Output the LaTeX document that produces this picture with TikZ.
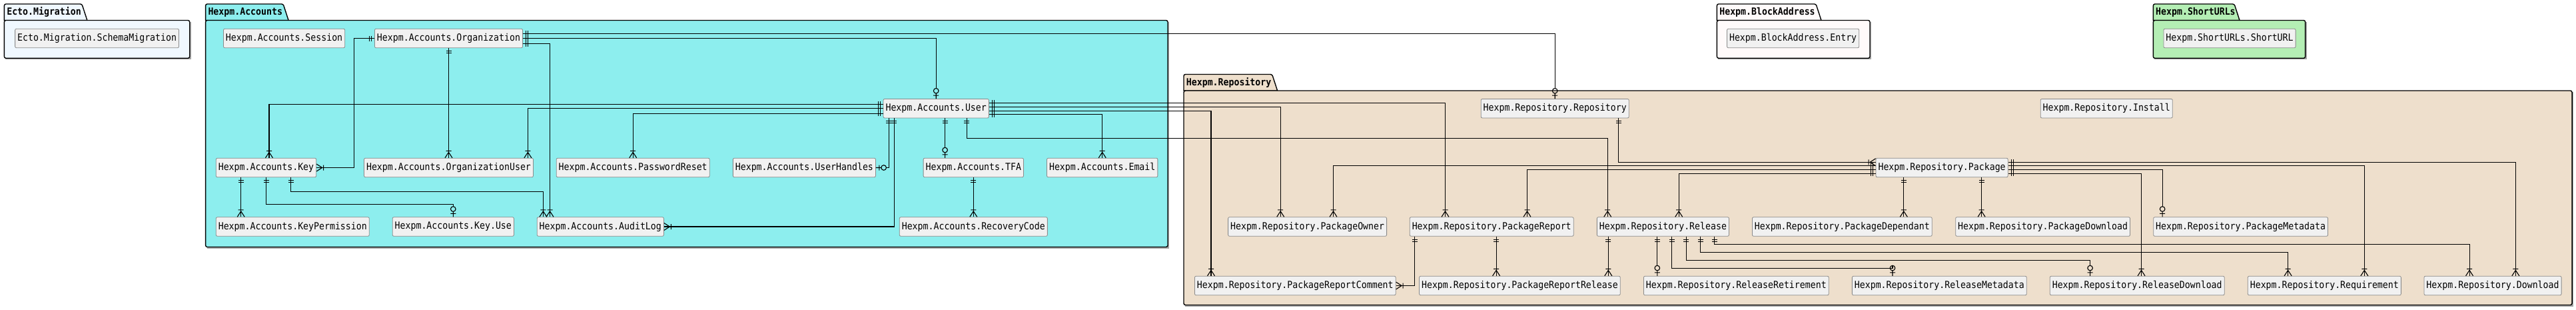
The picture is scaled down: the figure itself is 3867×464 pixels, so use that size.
\documentclass[tikz,border=0pt]{standalone}
\usepackage{fontspec}
\usepackage{tikz}
\usetikzlibrary{arrows.meta}
\newfontfamily\entfont{DejaVu Sans Mono}[FakeStretch=0.9]
\definecolor{migfill}{HTML}{F0F8FF}
\definecolor{accfill}{HTML}{8DEEEE}
\definecolor{repofill}{HTML}{EEDFCC}
\definecolor{blockfill}{HTML}{FFFAFA}
\definecolor{urlfill}{HTML}{B4EEB4}
\definecolor{entfill}{HTML}{F1F1F1}
\definecolor{entline}{HTML}{8A8A8A}

\pgfdeclarearrow{
  name = erOne,
  parameters = {\the\pgflinewidth},
  setup code = {
    \pgfarrowssettipend{0pt}
    \pgfarrowssetlineend{0pt}
    \pgfarrowssetbackend{-9pt}
  },
  drawing code = {
    \pgfpathmoveto{\pgfpoint{-4.5pt}{-4pt}}
    \pgfpathlineto{\pgfpoint{-4.5pt}{4pt}}
    \pgfpathmoveto{\pgfpoint{-7.5pt}{-4pt}}
    \pgfpathlineto{\pgfpoint{-7.5pt}{4pt}}
    \pgfusepathqstroke
  }
}
\pgfdeclarearrow{
  name = erMany,
  parameters = {\the\pgflinewidth},
  setup code = {
    \pgfarrowssettipend{0pt}
    \pgfarrowssetlineend{0pt}
    \pgfarrowssetbackend{-11pt}
  },
  drawing code = {
    \pgfpathmoveto{\pgfpoint{-8.5pt}{0pt}}
    \pgfpathlineto{\pgfpoint{0pt}{5.5pt}}
    \pgfpathmoveto{\pgfpoint{-8.5pt}{0pt}}
    \pgfpathlineto{\pgfpoint{0pt}{-5.5pt}}
    \pgfpathmoveto{\pgfpoint{-10.5pt}{-4pt}}
    \pgfpathlineto{\pgfpoint{-10.5pt}{4pt}}
    \pgfusepathqstroke
  }
}
\pgfdeclarearrow{
  name = erOpt,
  parameters = {\the\pgflinewidth},
  setup code = {
    \pgfarrowssettipend{0pt}
    \pgfarrowssetlineend{-15.6pt}
    \pgfarrowssetbackend{-15.6pt}
  },
  drawing code = {
    \pgfpathmoveto{\pgfpoint{0pt}{0pt}}
    \pgfpathlineto{\pgfpoint{-8pt}{0pt}}
    \pgfpathmoveto{\pgfpoint{-5pt}{-4pt}}
    \pgfpathlineto{\pgfpoint{-5pt}{4pt}}
    \pgfpathcircle{\pgfpoint{-11.8pt}{0pt}}{3.8pt}
    \pgfusepathqstroke
  }
}

\tikzset{
  ent/.style={draw=entline,fill=entfill,rounded corners=2pt,line width=0.8pt,minimum height=28.5pt,inner xsep=3.5pt,inner ysep=0pt,font=\entfont\fontsize{14.7}{17}\selectfont},
  pkgline/.style={draw=black,line width=1.4pt},
  pkgtitle/.style={inner xsep=3.7pt,inner ysep=0pt,font=\entfont\bfseries\fontsize{14.7}{17}\selectfont},
  onemany/.style={arrows={erOne-erMany}},
  oneopt/.style={arrows={erOne-erOpt}}
}

\newcommand\pkgbox[8]{%
  \fill[black!35] (#1+2,#2+26.5) rectangle (#3+2,#4+2);
  \draw[pkgline,fill=#6] (#1,#2+24.5) [rounded corners=2.5pt] -- (#1,#2) -- (#5-8,#2) [sharp corners] -- (#5,#2+24.5) -- cycle;
  \draw[pkgline,fill=#6,rounded corners=2.5pt] (#1,#2+24.5) rectangle (#3,#4);
  \node[pkgtitle,anchor=west] (#8) at (#1,#2+12.5) {#7};
}

\begin{document}
\begin{tikzpicture}[x=1pt,y=-1pt]
  \useasboundingbox (0,0) rectangle (3867,464);
  \pkgbox{6.4}{6}{284.7}{87.3}{130.9}{migfill}{Ecto.Migration}{tmig}
  \pkgbox{308.6}{6}{1753}{370.5}{433.1}{accfill}{Hexpm.Accounts}{tacc}
  \pkgbox{1777}{111.5}{3861}{457.5}{1917.6}{repofill}{Hexpm.Repository}{trepo}
  \pkgbox{2577.4}{6}{2807}{87.3}{2734}{blockfill}{Hexpm.BlockAddress}{tblock}
  \pkgbox{3232.3}{6}{3460.6}{87.3}{3362}{urlfill}{Hexpm.ShortURLs}{turl}

  \node[ent](mig) at (145.6,57.5){Ecto.Migration.SchemaMigration};
  \node[ent](sess) at (426.6,57.5){Hexpm.Accounts.Session};
  \node[ent](org) at (673.5,57.5){Hexpm.Accounts.Organization};
  \node[ent](entry) at (2691.6,57.5){Hexpm.BlockAddress.Entry};
  \node[ent](surl) at (3347,57.5){Hexpm.ShortURLs.ShortURL};
  \node[ent](user) at (1405.2,162.7){Hexpm.Accounts.User};
  \node[ent](repo) at (2334.2,162.7){Hexpm.Repository.Repository};
  \node[ent](inst) at (3162.2,162.7){Hexpm.Repository.Install};
  \node[ent](key) at (399.5,251.5){Hexpm.Accounts.Key};
  \node[ent](orgu) at (673.5,251.5){Hexpm.Accounts.OrganizationUser};
  \node[ent](pwr) at (950.2,251.5){Hexpm.Accounts.PasswordReset};
  \node[ent](uh) at (1207.4,251.5){Hexpm.Accounts.UserHandles};
  \node[ent](tfa) at (1461.3,251.5){Hexpm.Accounts.TFA};
  \node[ent](email) at (1654.7,251.5){Hexpm.Accounts.Email};
  \node[ent](pkg) at (2915.1,251.5){Hexpm.Repository.Package};
  \node[ent](kperm) at (439.3,340){Hexpm.Accounts.KeyPermission};
  \node[ent](kuse) at (680.3,340){Hexpm.Accounts.Key.Use};
  \node[ent](alog) at (901.3,340){Hexpm.Accounts.AuditLog};
  \node[ent](rcode) at (1461.3,340){Hexpm.Accounts.RecoveryCode};
  \node[ent](powner) at (1962.6,340){Hexpm.Repository.PackageOwner};
  \node[ent](prep) at (2239.2,340){Hexpm.Repository.PackageReport};
  \node[ent](rel) at (2496.4,340){Hexpm.Repository.Release};
  \node[ent](pdep) at (2765.3,340){Hexpm.Repository.PackageDependant};
  \node[ent](pdl) at (3066.6,340){Hexpm.Repository.PackageDownload};
  \node[ent](pmeta) at (3363.6,340){Hexpm.Repository.PackageMetadata};
  \node[ent](prc) at (1944.3,428.5){Hexpm.Repository.PackageReportComment};
  \node[ent](prr) at (2281.4,428.5){Hexpm.Repository.PackageReportRelease};
  \node[ent](rret) at (2606.3,428.5){Hexpm.Repository.ReleaseRetirement};
  \node[ent](rmeta) at (2911.3,428.5){Hexpm.Repository.ReleaseMetadata};
  \node[ent](rdl) at (3208.2,428.5){Hexpm.Repository.ReleaseDownload};
  \node[ent](req) at (3489.3,428.5){Hexpm.Repository.Requirement};
  \node[ent](dl) at (3742,428.5){Hexpm.Repository.Download};

  \begin{scope}[line width=1.1pt]
  % accounts
  \draw[oneopt] ([yshift=7.2pt]org.east) -| (repo.north);
  \draw[oneopt] (org.east) -| (user.north);
  \draw[onemany] ([yshift=-8.2pt]org.east) -| ([xshift=-75.8pt]alog.north);
  \draw[onemany] (org.west) -| ([xshift=56.4pt]key.east) -- (key.east);
  \draw[onemany] (org.south) -- (orgu.north);
  \draw[onemany] ([yshift=6.4pt]user.west) -| ([xshift=4.5pt]key.north);
  \draw[onemany] (user.west) -| ([xshift=118.9pt]orgu.north);
  \draw[onemany] ([yshift=-7.6pt]user.west) -| (pwr.north);
  \draw[onemany] ([yshift=8.4pt]user.east) -| ([xshift=-69.7pt]prep.north);
  \draw[onemany] ([yshift=2.4pt]user.east) -| ([xshift=-40.4pt]powner.north);
  \draw[onemany] ([yshift=-3.6pt]user.east) -| ([xshift=-126.3pt]prc.north);
  \draw[onemany] ([yshift=-9pt]user.east) -| (email.north);
  \draw[oneopt] ([xshift=-71pt]user.south) |- (uh.east);
  \draw[onemany] ([xshift=-63pt]user.south) |- (alog.east);
  \draw[oneopt] ([xshift=13.4pt]user.south) -- ([xshift=13.4pt]user.south |- tfa.north);
  \draw[onemany] ([xshift=46.1pt]user.south) -- ++(0,30.4) -| ([xshift=-83.2pt]rel.north);
  \draw[onemany] ([xshift=-37.8pt]key.south) -- ([xshift=-37.8pt]key.south |- kperm.north);
  \draw[oneopt] (key.south) -- ++(0,40.6) -| (kuse.north);
  \draw[onemany] ([xshift=37pt]key.south) -- ++(0,21) -| ([xshift=-85.9pt]alog.north);
  \draw[onemany] (tfa.south) -- (rcode.north);
  % repository
  \draw[onemany] ([xshift=95.3pt]repo.south) |- ([yshift=8.2pt]pkg.west);
  \draw[onemany] ([yshift=3.2pt]pkg.west) -| ([xshift=38.9pt]powner.north);
  \draw[onemany] ([yshift=-2.8pt]pkg.west) -| ([xshift=53.3pt]prep.north);
  \draw[onemany] ([yshift=-8.8pt]pkg.west) -| ([xshift=23.8pt]rel.north);
  \draw[onemany] ([yshift=8.2pt]pkg.east) -| ([xshift=34.3pt]dl.north);
  \draw[onemany] ([yshift=2.8pt]pkg.east) -| ([xshift=60pt]req.north);
  \draw[oneopt] ([yshift=-2.8pt]pkg.east) -| ([xshift=-117.5pt]pmeta.north);
  \draw[onemany] ([yshift=-8.8pt]pkg.east) -| ([xshift=6.3pt]rdl.north);
  \draw[onemany] ([xshift=-57.3pt]pkg.south) -- ([xshift=-57.3pt]pkg.south |- pdep.north);
  \draw[onemany] ([xshift=59.5pt]pkg.south) -- ([xshift=59.5pt]pkg.south |- pdl.north);
  \draw[onemany] ([xshift=-115.3pt]prep.south) |- (prc.east);
  \draw[onemany] ([xshift=6.9pt]prep.south) -- ([xshift=6.9pt]prep.south |- prr.north);
  \draw[onemany] ([xshift=-82.1pt]rel.south) -- ([xshift=-82.1pt]rel.south |- prr.north);
  \draw[oneopt] ([xshift=-8.6pt]rel.south) -- ([xshift=-8.6pt]rel.south |- rret.north);
  \draw[oneopt] ([xshift=13.2pt]rel.south) -- ++(0,48.1) -| ([xshift=-70.3pt]rmeta.north);
  \draw[oneopt] ([xshift=35pt]rel.south) -- ++(0,36.1) -| ([xshift=-70.6pt]rdl.north);
  \draw[onemany] ([xshift=56.2pt]rel.south) -- ++(0,24.1) -| ([xshift=-54.7pt]req.north);
  \draw[onemany] ([xshift=77.5pt]rel.south) -- ++(0,12.1) -| ([xshift=-35pt]dl.north);
  \end{scope}
\end{tikzpicture}
\end{document}
